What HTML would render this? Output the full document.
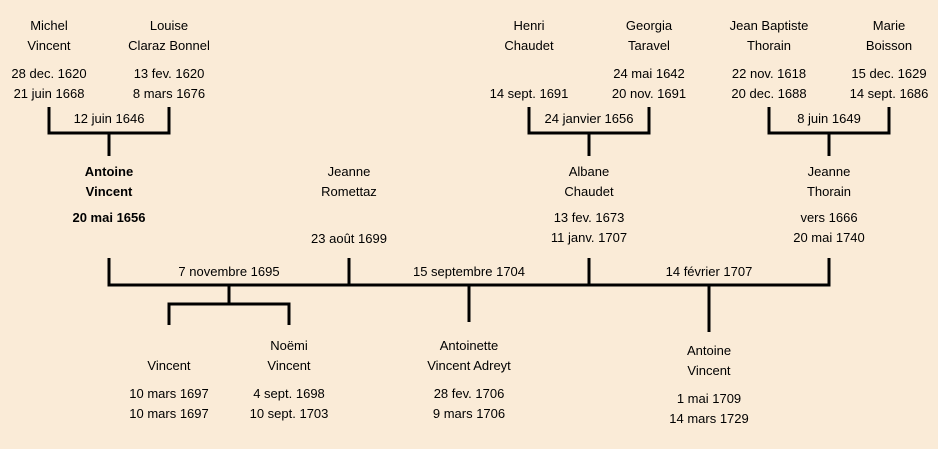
<!DOCTYPE html>
<html><head><meta charset="utf-8"><style>
body{margin:0;width:938px;height:449px;background:#faebd7;position:relative;overflow:hidden;font-family:"Comic Sans MS","Liberation Sans",sans-serif;font-size:13px;color:#000}
.t{position:absolute;width:160px;margin-left:-80px;text-align:center;line-height:20px;white-space:nowrap}
.b{font-weight:bold}
svg{position:absolute;left:0;top:0}
</style></head><body>
<svg width="938" height="449"><g stroke="#000" stroke-width="3" fill="none">
<path d="M49 107V133H169V107M109 133V156"/>
<path d="M529 107V133H649V107M589 133V156"/>
<path d="M769 107V133H889V107M829 133V156"/>
<path d="M109 258V285H829V258M349 258V285M589 258V285"/>
<path d="M229 285V304M169 325V304H289V325"/>
<path d="M469 285V322M709 285V332"/>
</g></svg>
<div class="t" style="left:49px;top:16px">Michel<br>Vincent</div>
<div class="t" style="left:49px;top:64px">28 dec. 1620<br>21 juin 1668</div>
<div class="t" style="left:169px;top:16px">Louise<br>Claraz Bonnel</div>
<div class="t" style="left:169px;top:64px">13 fev. 1620<br>8 mars 1676</div>
<div class="t" style="left:109px;top:109px">12 juin 1646</div>
<div class="t" style="left:529px;top:16px">Henri<br>Chaudet</div>
<div class="t" style="left:529px;top:84px">14 sept. 1691</div>
<div class="t" style="left:649px;top:16px">Georgia<br>Taravel</div>
<div class="t" style="left:649px;top:64px">24 mai 1642<br>20 nov. 1691</div>
<div class="t" style="left:589px;top:109px">24 janvier 1656</div>
<div class="t" style="left:769px;top:16px">Jean Baptiste<br>Thorain</div>
<div class="t" style="left:769px;top:64px">22 nov. 1618<br>20 dec. 1688</div>
<div class="t" style="left:889px;top:16px">Marie<br>Boisson</div>
<div class="t" style="left:889px;top:64px">15 dec. 1629<br>14 sept. 1686</div>
<div class="t" style="left:829px;top:109px">8 juin 1649</div>
<div class="t b" style="left:109px;top:162px">Antoine<br>Vincent</div>
<div class="t b" style="left:109px;top:208px">20 mai 1656</div>
<div class="t" style="left:349px;top:162px">Jeanne<br>Romettaz</div>
<div class="t" style="left:349px;top:229px">23 août 1699</div>
<div class="t" style="left:589px;top:162px">Albane<br>Chaudet</div>
<div class="t" style="left:589px;top:208px">13 fev. 1673<br>11 janv. 1707</div>
<div class="t" style="left:829px;top:162px">Jeanne<br>Thorain</div>
<div class="t" style="left:829px;top:208px">vers 1666<br>20 mai 1740</div>
<div class="t" style="left:229px;top:262px">7 novembre 1695</div>
<div class="t" style="left:469px;top:262px">15 septembre 1704</div>
<div class="t" style="left:709px;top:262px">14 février 1707</div>
<div class="t" style="left:169px;top:356px">Vincent</div>
<div class="t" style="left:169px;top:384px">10 mars 1697<br>10 mars 1697</div>
<div class="t" style="left:289px;top:336px">Noëmi<br>Vincent</div>
<div class="t" style="left:289px;top:384px">4 sept. 1698<br>10 sept. 1703</div>
<div class="t" style="left:469px;top:336px">Antoinette<br>Vincent Adreyt</div>
<div class="t" style="left:469px;top:384px">28 fev. 1706<br>9 mars 1706</div>
<div class="t" style="left:709px;top:341px">Antoine<br>Vincent</div>
<div class="t" style="left:709px;top:389px">1 mai 1709<br>14 mars 1729</div>
</body></html>
